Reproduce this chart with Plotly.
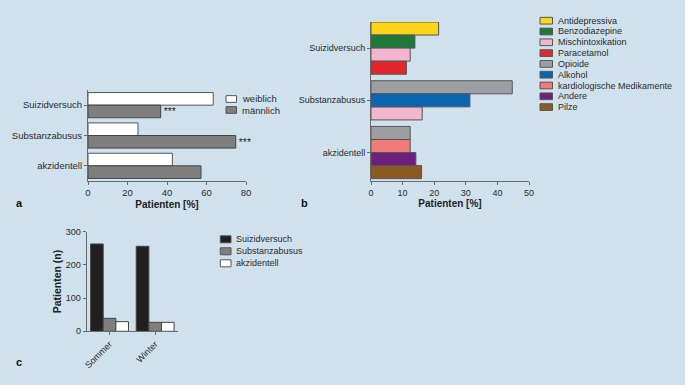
import plotly.graph_objects as go

W, H = 685, 385
BG = "#d0e1ee"
FONT = "Liberation Sans, Arial, sans-serif"
AXC = "#6a6a6a"
TXT = "#2a2a2a"

# ---------------- Panel a data ----------------
a_categories = ["Suizidversuch", "Substanzabusus", "akzidentell"]
a_series = ["weiblich", "männlich"]
a_weiblich = [63.4, 25.3, 42.7]
a_maennlich = [36.8, 74.8, 57.2]
a_signif = ["***", "***", ""]
a_ticks = [0, 20, 40, 60, 80]
a_colors = ["#ffffff", "#7f7f80"]

# ---------------- Panel b data ----------------
b_groups = ["Suizidversuch", "Substanzabusus", "akzidentell"]
b_substances = ["Antidepressiva", "Benzodiazepine", "Mischintoxikation", "Paracetamol",
                "Opioide", "Alkohol", "kardiologische Medikamente", "Andere", "Pilze"]
b_colors = ["#fcd617", "#1d7a3b", "#f3b6cf", "#e3262c", "#9c9ea1",
            "#0a66b0", "#f07a78", "#6f1f7f", "#8b5a23"]
b_suizid_names = ["Antidepressiva", "Benzodiazepine", "Mischintoxikation", "Paracetamol"]
b_suizid_vals = [21.4, 13.9, 12.4, 11.2]
b_substanz_names = ["Opioide", "Alkohol", "Mischintoxikation"]
b_substanz_vals = [44.7, 31.3, 16.2]
b_akzid_names = ["Opioide", "kardiologische Medikamente", "Andere", "Pilze"]
b_akzid_vals = [12.4, 12.4, 14.2, 16.0]
b_ticks = [0, 10, 20, 30, 40, 50]

# ---------------- Panel c data ----------------
c_seasons = ["Sommer", "Winter"]
c_series = ["Suizidversuch", "Substanzabusus", "akzidentell"]
c_suizid = [263, 256]
c_substanz = [39, 27]
c_akzid = [29, 27]
c_ticks = [0, 100, 200, 300]
c_colors = ["#231f20", "#7f7f80", "#ffffff"]


def px_x(x):
    return x / W


def px_y(y):
    return 1 - y / H


fig = go.Figure()

# ---------- Panel a ----------
fig.add_trace(go.Bar(orientation="h", y=a_categories, x=a_weiblich, name=a_series[0],
                     marker=dict(color=a_colors[0], line=dict(color="#555555", width=1)),
                     xaxis="x", yaxis="y", showlegend=False))
fig.add_trace(go.Bar(orientation="h", y=a_categories, x=a_maennlich, name=a_series[1],
                     marker=dict(color=a_colors[1], line=dict(color="#444444", width=1)),
                     text=a_signif, textposition="outside", constraintext="none",
                     textfont=dict(size=10.5, color=TXT, family=FONT), cliponaxis=False,
                     xaxis="x", yaxis="y", showlegend=False))

# ---------- Panel b ----------
b_members = [b_suizid_names, b_substanz_names, b_akzid_names]
b_values = [b_suizid_vals, b_substanz_vals, b_akzid_vals]
GAP = 0.5
pos = 0.0
entries = {n: ([], []) for n in b_substances}
b_tickvals = []
for names, vals in zip(b_members, b_values):
    start = pos
    for n, v in zip(names, vals):
        entries[n][0].append(pos + 0.5)
        entries[n][1].append(v)
        pos += 1
    b_tickvals.append((start + pos) / 2)
    pos += GAP
b_total = pos - GAP

for n, col in zip(b_substances, b_colors):
    ys, xs = entries[n]
    fig.add_trace(go.Bar(orientation="h", y=ys, x=xs, name=n, width=1, offset=-0.5,
                         marker=dict(color=col, line=dict(color="#555555", width=1)),
                         xaxis="x2", yaxis="y2", showlegend=False))

# ---------- Panel c ----------
for name, vals, col in zip(c_series, [c_suizid, c_substanz, c_akzid], c_colors):
    fig.add_trace(go.Bar(x=c_seasons, y=vals, name=name,
                         marker=dict(color=col, line=dict(color="#444444", width=1)),
                         xaxis="x3", yaxis="y3", showlegend=False))

tickfont_a = dict(family=FONT, size=9.5, color=TXT)
tickfont_b = dict(family=FONT, size=9, color=TXT)
axis_common = dict(showline=True, linecolor=AXC, linewidth=1, ticks="outside",
                   tickcolor=AXC, ticklen=3, tickwidth=1, showgrid=False, zeroline=False)
title_font = dict(family=FONT, size=10, color="#222222")

fig.update_layout(
    width=W, height=H, autosize=False,
    margin=dict(l=0, r=0, t=0, b=0),
    paper_bgcolor=BG, plot_bgcolor=BG,
    template="none",
    barmode="group", bargap=0.17, bargroupgap=0,
    showlegend=False,
    font=dict(family=FONT, color=TXT),
    xaxis=dict(domain=[px_x(88), px_x(246)], anchor="y", range=[0, 80],
               tickvals=a_ticks, tickfont=tickfont_a,
               title=dict(text="<b>Patienten [%]</b>", font=title_font, standoff=3),
               **axis_common),
    yaxis=dict(domain=[px_y(181), px_y(90)], anchor="x", range=[2.5, -0.5],
               type="category", tickfont=tickfont_a, **axis_common),
    xaxis2=dict(domain=[px_x(371), px_x(529)], anchor="y2", range=[0, 50],
                tickvals=b_ticks, tickfont=tickfont_b,
                title=dict(text="<b>Patienten [%]</b>", font=title_font, standoff=3),
                **axis_common),
    yaxis2=dict(domain=[px_y(181), px_y(22)], anchor="x2", range=[b_total + 0.18, 0],
                tickvals=b_tickvals, ticktext=b_groups, tickfont=tickfont_b, **axis_common),
    xaxis3=dict(domain=[px_x(86.7), px_x(178)], anchor="y3", range=[-0.5, 1.5],
                type="category", tickangle=-45, tickfont=tickfont_b, **axis_common),
    yaxis3=dict(domain=[px_y(331.3), px_y(231.7)], anchor="x3", range=[0, 300],
                tickvals=c_ticks, tickfont=tickfont_b,
                title=dict(text="<b>Patienten (n)</b>", font=dict(family=FONT, size=10.5, color="#222222"),
                           standoff=2),
                **axis_common),
)

shapes = []
annotations = []


def add_legend(names, colors, x0, y0, dy, sw, sh, fsize, tx):
    for i, (n, c) in enumerate(zip(names, colors)):
        yc = y0 + i * dy
        shapes.append(dict(type="rect", xref="paper", yref="paper",
                           x0=px_x(x0), x1=px_x(x0 + sw), y0=px_y(yc - sh / 2), y1=px_y(yc + sh / 2),
                           fillcolor=c, line=dict(color="#555555", width=1)))
        annotations.append(dict(xref="paper", yref="paper", x=px_x(tx), y=px_y(yc),
                                xanchor="left", yanchor="middle", text=n, showarrow=False,
                                font=dict(family=FONT, size=fsize, color=TXT)))


add_legend(a_series, a_colors, 226, 99, 11, 10.5, 6.7, 9.5, 240)
add_legend(b_substances, b_colors, 540, 20.7, 10.8, 12.5, 6.7, 9, 556)
add_legend(c_series, c_colors, 220.3, 239.3, 12, 10.7, 7, 9, 234)

for lab, x, y in [("a", 19, 203), ("b", 304, 203), ("c", 19, 362)]:
    annotations.append(dict(xref="paper", yref="paper", x=px_x(x), y=px_y(y),
                            xanchor="center", yanchor="middle", text=f"<b>{lab}</b>",
                            showarrow=False, font=dict(family=FONT, size=11, color="#111111")))

fig.update_layout(shapes=shapes, annotations=annotations)

fig.write_html("out.html", config={"displayModeBar": False},
               post_script="document.body.style.margin='0';document.body.style.background='%s';" % BG)
